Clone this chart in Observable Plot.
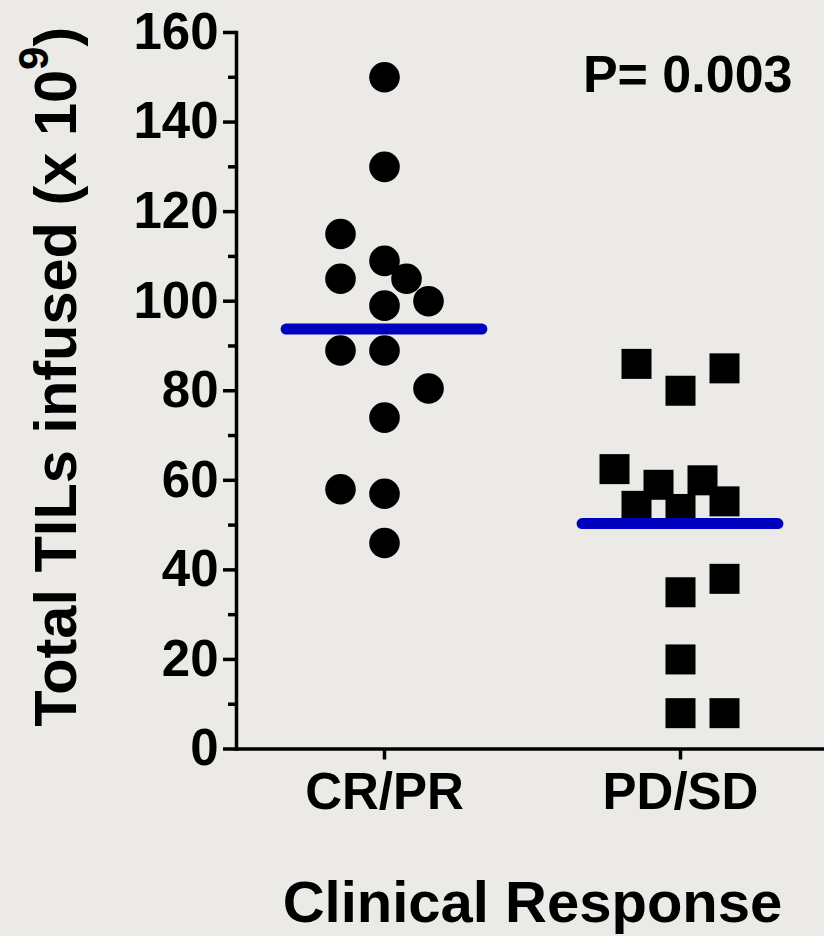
<!DOCTYPE html>
<html>
<head>
<meta charset="utf-8">
<script src="https://cdn.jsdelivr.net/npm/d3@7"></script>
<script src="https://cdn.jsdelivr.net/npm/@observablehq/plot@0.6"></script>
<style>
  html, body { margin: 0; padding: 0; background: #ebeae6; overflow: hidden; }
  #chart { width: 828px; }
</style>
</head>
<body>
<div id="chart"></div>
<script>
// ---- data ----
const categories = ["CR/PR", "PD/SD"];
const crprValues = [150, 130, 115, 109, 105, 105, 100, 99, 89, 89, 80.5, 74, 58, 57, 46];
const crprLanes  = [0, 0, -2, 0, -2, 1, 2, 0, -2, 0, 2, 0, -2, 0, 0];
const pdsdValues = [86, 80, 85, 62.5, 59, 60, 54.3, 53.6, 55.3, 35, 38, 20, 8, 8];
const pdsdLanes  = [-2, 0, 2, -3, -1, 1, -2, 0, 2, 0, 2, 0, 0, 2];
const yTicks = [0, 20, 40, 60, 80, 100, 120, 140, 160];
const yMinorTicks = [10, 30, 50, 70, 90, 110, 130, 150];
const yLabel = "Total TILs infused (x 10⁹)";
const xLabel = "Clinical Response";
const pValueText = "P= 0.003";
const pValueGroup = "PD/SD";

// ---- tables ----
const crpr = crprValues.map((v, i) => ({group: categories[0], value: v, lane: crprLanes[i]}));
const pdsd = pdsdValues.map((v, i) => ({group: categories[1], value: v, lane: pdsdLanes[i]}));
const means = [
  {group: categories[0], mean: d3.mean(crprValues)},
  {group: categories[1], mean: d3.mean(pdsdValues)}
];
const annotations = [{group: pValueGroup, text: pValueText}];

// ---- layout / style constants ----
const facetWidth = 296, lanePx = 22;
const laneExtent = facetWidth / 2 / lanePx;
const meanHalf = 4.45; // lanes
const axisW = 3.5;

const chart = Plot.plot({
  width: 828,
  height: 936,
  marginLeft: 236,
  marginRight: 0,
  marginTop: 32,
  marginBottom: 187.5,
  style: {background: "#ebeae6", fontFamily: "'Liberation Sans', Arial, sans-serif", fontWeight: "bold", color: "black", overflow: "visible"},
  fx: {domain: categories, padding: 0},
  x: {domain: [-laneExtent, laneExtent], axis: null},
  y: {domain: [0, 160]},
  marks: [
    Plot.frame({anchor: "left", facetAnchor: "left", stroke: "black", strokeWidth: axisW}),
    Plot.ruleY([0], {stroke: "black", strokeWidth: axisW}),
    Plot.axisY(yTicks, {tickSize: 13, tickPadding: 5, fontSize: 51, fontWeight: "bold", strokeWidth: axisW,
      label: yLabel, labelAnchor: "center", labelOffset: 203, labelArrow: "none"}),
    Plot.axisY(yMinorTicks, {tickSize: 8, tickFormat: () => "", strokeWidth: axisW, label: null}),
    Plot.axisFx({anchor: "bottom", tickSize: 11, tickPadding: 13, fontSize: 51, fontWeight: "bold", strokeWidth: axisW,
      label: xLabel, labelAnchor: "center", labelArrow: "none", labelOffset: 173}),
    Plot.dot(crpr, {fx: "group", x: "lane", y: "value", r: 15.3, fill: "black", symbol: "circle"}),
    Plot.dot(pdsd, {fx: "group", x: "lane", y: "value", r: 16.93, fill: "black", symbol: "square"}),
    Plot.ruleY(means, {fx: "group", y: "mean", x1: -meanHalf, x2: meanHalf, stroke: "#0000bf", strokeWidth: 11, strokeLinecap: "round"}),
    Plot.text(annotations, {fx: "group", text: "text", frameAnchor: "top-right", textAnchor: "end", lineAnchor: "top", dx: -36, dy: 23, fontSize: 52, fontWeight: "bold", fill: "black"})
  ]
});
document.getElementById("chart").append(chart);

// ---- label styling (font size, superscript) ----
function findText(str) {
  return Array.from(chart.querySelectorAll("text")).find(t => t.textContent.includes(str));
}
const yl = findText("TILs");
if (yl) {
  yl.setAttribute("font-size", 59.5);
  const base = yLabel.replace("⁹)", "");
  yl.textContent = "";
  const ns = "http://www.w3.org/2000/svg";
  const t1 = document.createElementNS(ns, "tspan"); t1.textContent = base;
  const t2 = document.createElementNS(ns, "tspan"); t2.textContent = "9"; t2.setAttribute("font-size", 42); t2.setAttribute("dy", -28);
  const t3 = document.createElementNS(ns, "tspan"); t3.textContent = ")"; t3.setAttribute("dy", 28);
  yl.append(t1, t2, t3);
  const tr = yl.getAttribute("transform");
  if (tr && tr.includes("rotate")) yl.setAttribute("transform", tr + " translate(14,0)");
  else if (yl.parentNode.getAttribute("transform")) yl.setAttribute("transform", "translate(14,0)");
}
const xl = findText(xLabel);
if (xl) xl.setAttribute("font-size", 58);
</script>
</body>
</html>
